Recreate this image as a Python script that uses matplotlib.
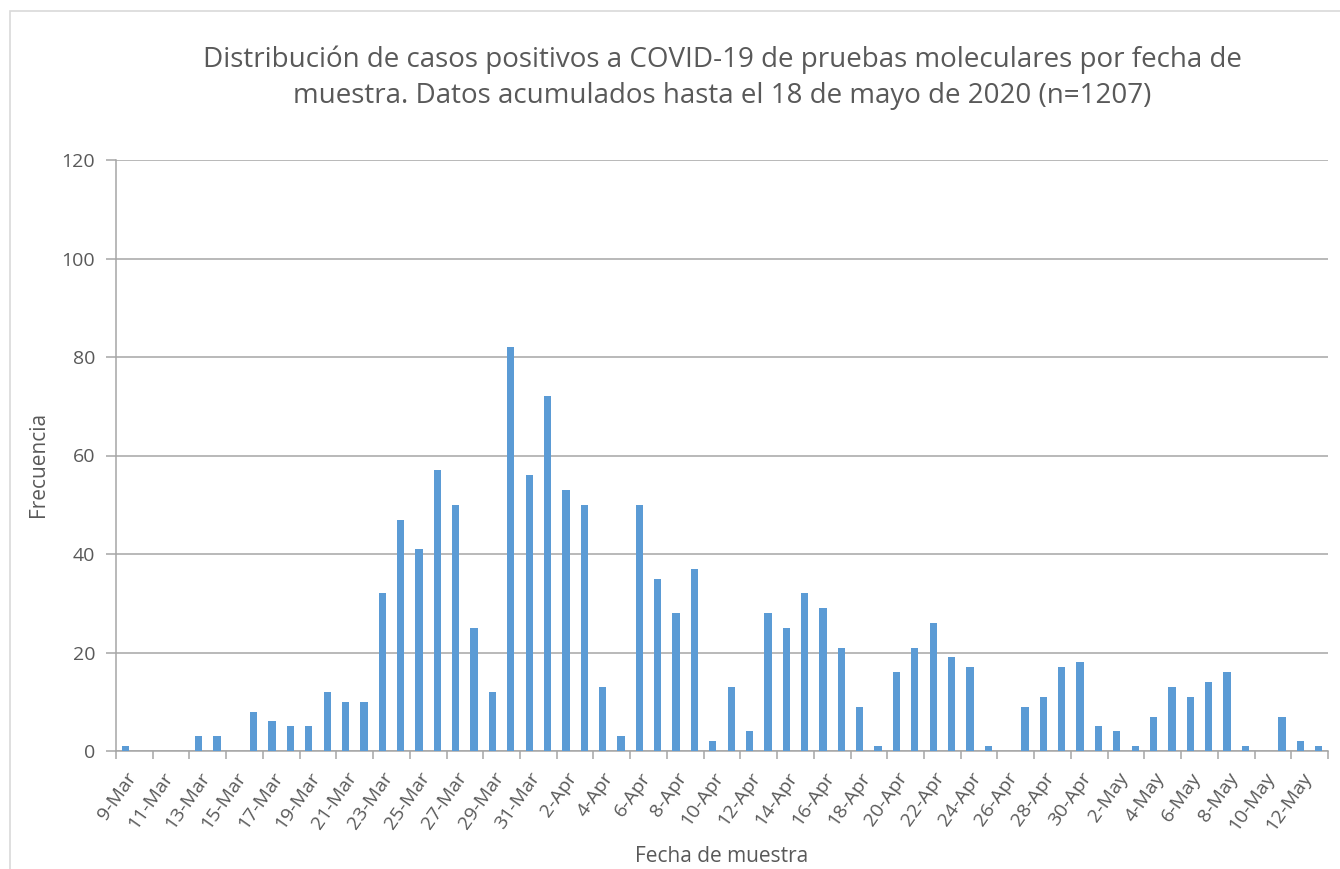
import datetime as dt
import matplotlib
matplotlib.use('Agg')
import matplotlib.pyplot as plt
from matplotlib.patches import Rectangle
from matplotlib.transforms import ScaledTranslation

# Casos por fecha de muestra, del 9-Mar al 13-May de 2020
start_date = dt.date(2020, 3, 9)
casos = [1, 0, 0, 0, 3, 3, 0, 8, 6, 5, 5, 12, 10, 10,
         32, 47, 41, 57, 50, 25, 12, 82, 56,
         72, 53, 50, 13, 3, 50, 35, 28, 37,
         2, 13, 4, 28, 25, 32, 29, 21, 9,
         1, 16, 21, 26, 19, 17, 1, 0,
         9, 11, 17, 18,
         5, 4, 1, 7, 13, 11, 14, 16,
         1, 0, 7, 2, 1]
fechas = [start_date + dt.timedelta(days=i) for i in range(len(casos))]
etiquetas = [f"{d.day}-{d.strftime('%b')}" for d in fechas]
y_ticks = [0, 20, 40, 60, 80, 100, 120]

titulo = ("Distribución de casos positivos a COVID-19 de pruebas moleculares por fecha de\n"
          "muestra. Datos acumulados hasta el 18 de mayo de 2020 (n=1207)")

plt.rcParams['font.family'] = ['Open Sans', 'DejaVu Sans']
text_color = '#595959'
grid_color = '#A6A6A6'

W, H = 1340, 869
fig = plt.figure(figsize=(W / 100, H / 100), dpi=100)
ax = fig.add_axes([116 / W, 1 - 751 / H, (1328 - 116) / W, (751 - 160) / H])

x = list(range(len(casos)))
ax.bar(x, casos, width=0.4, color='#5B9BD5', zorder=3)

ax.set_xlim(-0.5, len(casos) - 0.5)
ax.set_ylim(0, 120)
ax.set_yticks(y_ticks)
ax.yaxis.grid(True, color=grid_color, linewidth=1.1, zorder=0)

# marcas entre categorías cada 2 días, etiquetas centradas en la categoría
ax.set_xticks([i - 0.5 for i in range(0, len(casos) + 1, 2)])
ax.set_xticklabels([])
ax.set_xticks(x[::2], minor=True)
ax.set_xticklabels(etiquetas[::2], minor=True, rotation=55, ha='right',
                   rotation_mode='anchor', fontsize=14, color=text_color)
shift = ScaledTranslation(7 / 100, 0, fig.dpi_scale_trans)
for lbl in ax.get_xticklabels(minor=True):
    lbl.set_transform(lbl.get_transform() + shift)
ax.tick_params(axis='x', which='major', length=6, color=grid_color, width=1.1)
ax.tick_params(axis='x', which='minor', length=0, pad=13)
ax.tick_params(axis='y', length=7, color=grid_color, width=1.1,
               labelsize=14, labelcolor=text_color, pad=8)

for side in ['top', 'right']:
    ax.spines[side].set_visible(False)
for side in ['left', 'bottom']:
    ax.spines[side].set_color(grid_color)
    ax.spines[side].set_linewidth(1.1)

fig.text(722 / W, 1 - 78 / H, titulo, ha='center', va='center',
         fontsize=20, color=text_color, linespacing=1.4)
fig.text(722 / W, 1 - 857 / H, 'Fecha de muestra', ha='center', va='center',
         fontsize=15, color=text_color)
fig.text(38 / W, 1 - 464 / H, 'Frecuencia', ha='center', va='center',
         rotation=90, fontsize=15, color=text_color)

fig.patches.append(Rectangle((10 / W, -0.05), 1.1, 1.05 - 11 / H, fill=False,
                             edgecolor='#D9D9D9', linewidth=1.2,
                             transform=fig.transFigure, clip_on=False))

fig.savefig('out.png', dpi=100)
